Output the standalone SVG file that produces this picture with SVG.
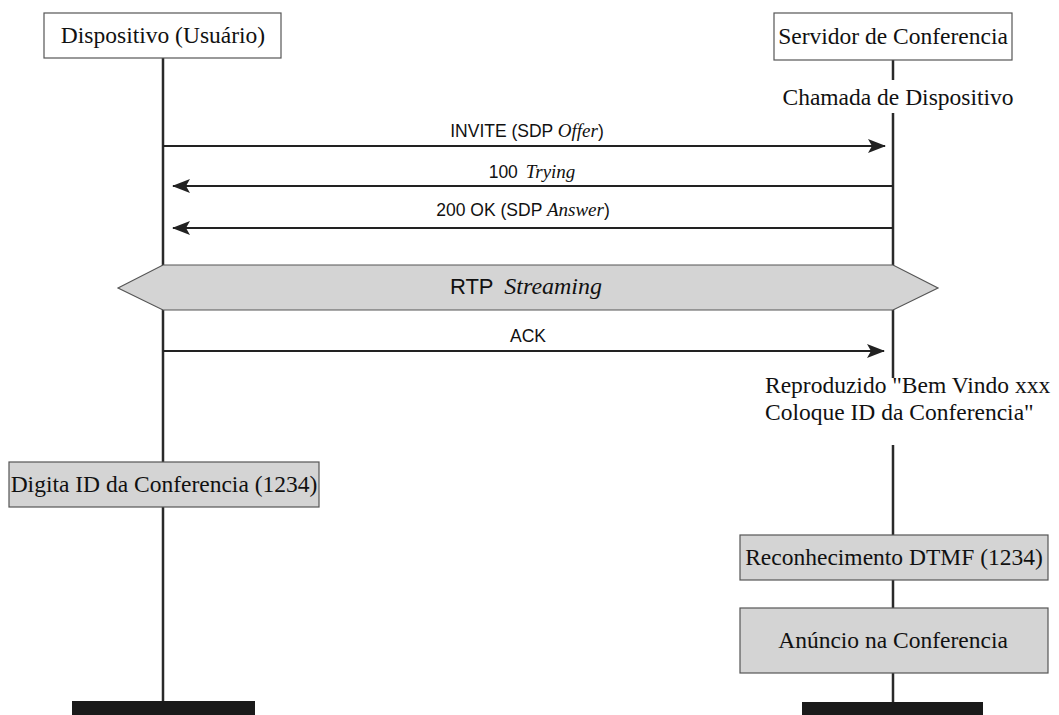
<svg xmlns="http://www.w3.org/2000/svg" width="1059" height="715" viewBox="0 0 1059 715">
  <style>
    .serif { font-family: "Liberation Serif", "Times New Roman", serif; fill: #111; font-size: 23.5px; }
    .sans { font-family: "Liberation Sans", Arial, sans-serif; fill: #111; }
    .it { font-family: "Liberation Serif", "Times New Roman", serif; font-style: italic; }
    .head { fill: #fff; stroke: #555; stroke-width: 1.2; }
    .act { fill: #d4d4d4; stroke: #555; stroke-width: 1.2; }
    .life { stroke: #2a2a2a; stroke-width: 2.5; fill: none; }
    .msg { stroke: #222; stroke-width: 2; fill: none; }
    .bar { fill: #1a1a1a; }
  </style>
  <defs>
    <marker id="arrow" viewBox="0 0 18 14" refX="17" refY="7" markerWidth="18" markerHeight="14" markerUnits="userSpaceOnUse" orient="auto">
      <path d="M0,0 L18,7 L0,14 L4,7 Z" fill="#222"/>
    </marker>
  </defs>
  <rect width="1059" height="715" fill="#fff"/>

  <!-- lifelines -->
  <g id="lifelines">
    <line class="life" x1="163" y1="58" x2="163" y2="702"/>
    <line class="life" x1="893" y1="60" x2="893" y2="80"/>
    <line class="life" x1="893" y1="113" x2="893" y2="378"/>
    <line class="life" x1="893" y1="445" x2="893" y2="702"/>
  </g>

  <!-- participants -->
  <g id="device">
    <rect class="head" x="44" y="13" width="237" height="45"/>
    <text class="serif" x="163" y="43" text-anchor="middle">Dispositivo (Usuário)</text>
    <rect class="bar" x="72" y="701" width="183" height="14"/>
  </g>
  <g id="server">
    <rect class="head" x="774" y="13" width="238" height="47"/>
    <text class="serif" x="893" y="44" text-anchor="middle">Servidor de Conferencia</text>
    <rect class="bar" x="802" y="702" width="181" height="13"/>
  </g>

  <g id="call-note">
    <text class="serif" x="898" y="105" text-anchor="middle">Chamada de Dispositivo</text>
  </g>

  <!-- messages -->
  <g id="connectors">
    <line class="msg" x1="163" y1="146" x2="885" y2="146" marker-end="url(#arrow)"/>
    <line class="msg" x1="893" y1="186" x2="173" y2="186" marker-end="url(#arrow)"/>
    <line class="msg" x1="893" y1="228" x2="173" y2="228" marker-end="url(#arrow)"/>
    <line class="msg" x1="163" y1="351" x2="884" y2="351" marker-end="url(#arrow)"/>
  </g>
  <g id="labels">
    <text class="sans" x="527" y="137" font-size="17.5" text-anchor="middle">INVITE (SDP <tspan class="it" font-size="19">Offer</tspan>)</text>
    <text class="sans" x="532" y="178" font-size="17.5" text-anchor="middle">100 <tspan class="it" font-size="19" dx="3">Trying</tspan></text>
    <text class="sans" x="523" y="216" font-size="17.5" text-anchor="middle">200 OK (SDP <tspan class="it" font-size="19">Answer</tspan>)</text>
    <text class="sans" x="528" y="342" font-size="17.5" text-anchor="middle">ACK</text>
  </g>

  <!-- media stream -->
  <g id="rtp">
    <polygon class="act" points="118,288 163,265 893,265 938,288 893,310 163,310"/>
    <text class="sans" x="526" y="294" font-size="22" text-anchor="middle">RTP <tspan class="it" font-size="24" dx="5">Streaming</tspan></text>
  </g>

  <g id="welcome-note">
    <text class="serif" x="765" y="393" font-size="22">Reproduzido "Bem Vindo xxx</text>
    <text class="serif" x="765" y="420" font-size="22">Coloque ID da Conferencia"</text>
  </g>

  <g id="enter-id">
    <rect class="act" x="9" y="462" width="310" height="45"/>
    <text class="serif" x="164" y="492" text-anchor="middle">Digita ID da Conferencia (1234)</text>
  </g>

  <g id="dtmf">
    <rect class="act" x="740" y="535" width="308" height="45"/>
    <text class="serif" x="894" y="565" text-anchor="middle">Reconhecimento DTMF (1234)</text>
  </g>

  <g id="announce">
    <rect class="act" x="740" y="608" width="308" height="65"/>
    <text class="serif" x="893" y="648" text-anchor="middle">Anúncio na Conferencia</text>
  </g>
</svg>
